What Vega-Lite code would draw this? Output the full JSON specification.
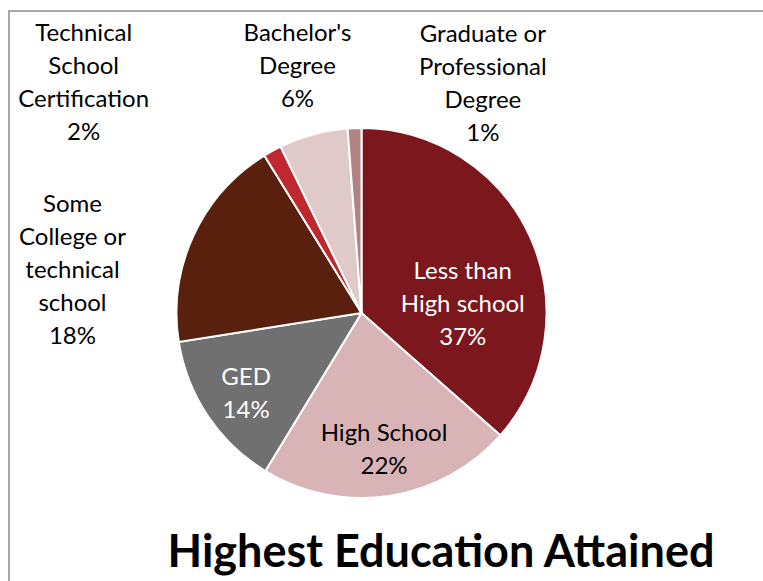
{
  "$schema": "https://vega.github.io/schema/vega-lite/v6.json",
  "autosize": {"type": "none"},
  "padding": {"left": 9, "top": 11, "right": 0, "bottom": 0},
  "width": 770,
  "height": 575,
  "background": "white",
  "title": {
    "text": "Highest Education Attained",
    "orient": "bottom",
    "anchor": "middle",
    "offset": -56,
    "dx": 47,
    "font": "Lato",
    "fontSize": 45,
    "fontWeight": "bold",
    "color": "#000000"
  },
  "data": {
    "values": [
      {"idx": 1, "category": "Less than High school", "value": 36.5, "label": "Less than\nHigh school\n37%"},
      {"idx": 2, "category": "High School", "value": 22.2, "label": "High School\n22%"},
      {"idx": 3, "category": "GED", "value": 13.8, "label": "GED\n14%"},
      {"idx": 4, "category": "Some College or technical school", "value": 18.7, "label": "Some\nCollege or\ntechnical\nschool\n18%"},
      {"idx": 5, "category": "Technical School Certification", "value": 1.6, "label": "Technical\nSchool\nCertification\n2%"},
      {"idx": 6, "category": "Bachelor's Degree", "value": 6.0, "label": "Bachelor's\nDegree\n6%"},
      {"idx": 7, "category": "Graduate or Professional Degree", "value": 1.2, "label": "Graduate or\nProfessional\nDegree\n1%"}
    ]
  },
  "transform": [
    {"stack": "value", "groupby": [], "sort": [{"field": "idx", "order": "ascending"}], "as": ["s0", "s1"]},
    {"calculate": "(datum.s0 + datum.s1) / 2", "as": "mid"}
  ],
  "layer": [
    {
      "data": {"values": [{"frame": "border"}]},
      "mark": {"type": "rect", "fill": null, "fillOpacity": 0, "stroke": "#8a8a8a", "strokeWidth": 1.5},
      "encoding": {}
    },
    {
      "mark": {"type": "arc", "outerRadius": 185, "stroke": "white", "strokeWidth": 2, "x": {"expr": "width/2 - 32.5"}, "y": {"expr": "height/2 + 14.5"}},
      "encoding": {
        "theta": {"field": "s0", "type": "quantitative", "scale": {"domain": [0, 100]}},
        "theta2": {"field": "s1"},
        "color": {
          "field": "category", "type": "nominal", "legend": null,
          "scale": {
            "domain": ["Less than High school", "High School", "GED", "Some College or technical school", "Technical School Certification", "Bachelor's Degree", "Graduate or Professional Degree"],
            "range": ["#7B171D", "#D9B4B6", "#707070", "#58200D", "#C0282F", "#E0C9C9", "#B08484"]
          }
        }
      }
    },
    {
      "transform": [{"filter": "datum.idx == 1"}],
      "mark": {"type": "text", "radius": 110, "dx": 1, "dy": 4, "fill": "white", "font": "Lato", "fontSize": 24, "lineHeight": 33, "lineBreak": "\n", "align": "center", "baseline": "middle", "x": {"expr": "width/2 - 32.5"}, "y": {"expr": "height/2 + 14.5"}},
      "encoding": {"theta": {"field": "mid", "type": "quantitative", "stack": null}, "text": {"field": "label", "type": "nominal"}}
    },
    {
      "transform": [{"filter": "datum.idx == 2"}],
      "mark": {"type": "text", "radius": 110, "dx": 6, "dy": 12, "fill": "black", "font": "Lato", "fontSize": 24, "lineHeight": 33, "lineBreak": "\n", "align": "center", "baseline": "middle", "x": {"expr": "width/2 - 32.5"}, "y": {"expr": "height/2 + 14.5"}},
      "encoding": {"theta": {"field": "mid", "type": "quantitative", "stack": null}, "text": {"field": "label", "type": "nominal"}}
    },
    {
      "transform": [{"filter": "datum.idx == 3"}],
      "mark": {"type": "text", "radius": 110, "dx": -24, "dy": 4, "fill": "white", "font": "Lato", "fontSize": 24, "lineHeight": 33, "lineBreak": "\n", "align": "center", "baseline": "middle", "x": {"expr": "width/2 - 32.5"}, "y": {"expr": "height/2 + 14.5"}},
      "encoding": {"theta": {"field": "mid", "type": "quantitative", "stack": null}, "text": {"field": "label", "type": "nominal"}}
    },
    {
      "transform": [{"filter": "datum.idx == 4"}],
      "mark": {"type": "text", "radius": 230, "dx": -80, "dy": -12, "fill": "black", "font": "Lato", "fontSize": 24, "lineHeight": 33, "lineBreak": "\n", "align": "center", "baseline": "middle", "x": {"expr": "width/2 - 32.5"}, "y": {"expr": "height/2 + 14.5"}},
      "encoding": {"theta": {"field": "mid", "type": "quantitative", "stack": null}, "text": {"field": "label", "type": "nominal"}}
    },
    {
      "transform": [{"filter": "datum.idx == 5"}],
      "mark": {"type": "text", "radius": 230, "dx": -167, "dy": -77, "fill": "black", "font": "Lato", "fontSize": 24, "lineHeight": 33, "lineBreak": "\n", "align": "center", "baseline": "middle", "x": {"expr": "width/2 - 32.5"}, "y": {"expr": "height/2 + 14.5"}},
      "encoding": {"theta": {"field": "mid", "type": "quantitative", "stack": null}, "text": {"field": "label", "type": "nominal"}}
    },
    {
      "transform": [{"filter": "datum.idx == 6"}],
      "mark": {"type": "text", "radius": 230, "dx": -4, "dy": -57, "fill": "black", "font": "Lato", "fontSize": 24, "lineHeight": 33, "lineBreak": "\n", "align": "center", "baseline": "middle", "x": {"expr": "width/2 - 32.5"}, "y": {"expr": "height/2 + 14.5"}},
      "encoding": {"theta": {"field": "mid", "type": "quantitative", "stack": null}, "text": {"field": "label", "type": "nominal"}}
    },
    {
      "transform": [{"filter": "datum.idx == 7"}],
      "mark": {"type": "text", "radius": 230, "dx": 130, "dy": -48, "fill": "black", "font": "Lato", "fontSize": 24, "lineHeight": 33, "lineBreak": "\n", "align": "center", "baseline": "middle", "x": {"expr": "width/2 - 32.5"}, "y": {"expr": "height/2 + 14.5"}},
      "encoding": {"theta": {"field": "mid", "type": "quantitative", "stack": null}, "text": {"field": "label", "type": "nominal"}}
    }
  ]
}
